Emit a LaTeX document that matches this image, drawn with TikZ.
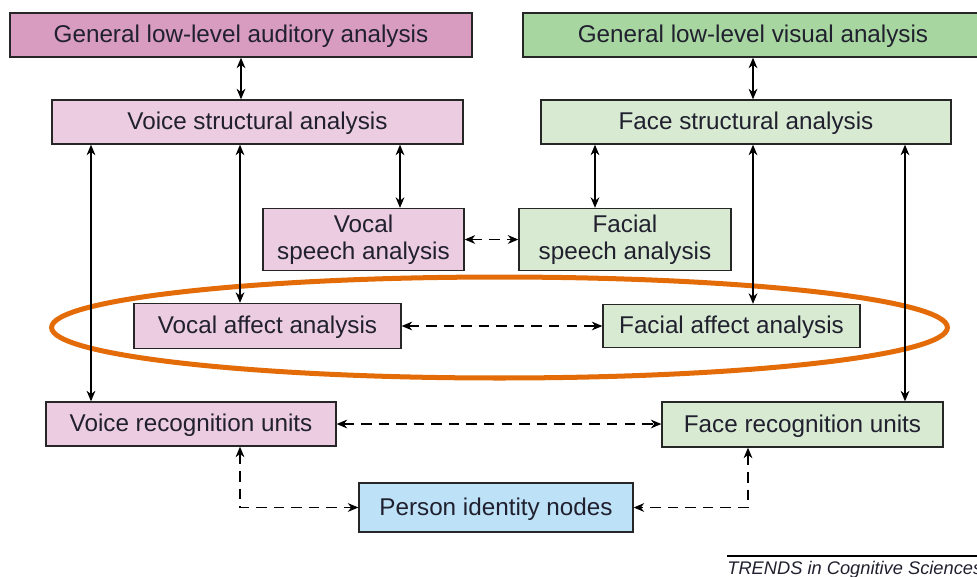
\documentclass[tikz,border=0pt]{standalone}
\usepackage{fontspec}
\setmainfont{Liberation Sans}
\usetikzlibrary{arrows.meta}
\definecolor{audpink}{HTML}{D99CC1}
\definecolor{voicepink}{HTML}{ECCCE1}
\definecolor{visgreen}{HTML}{A8D6A0}
\definecolor{facegreen}{HTML}{D9EAD3}
\definecolor{idblue}{HTML}{BDE1F7}
\definecolor{ringorange}{HTML}{E36C09}
\definecolor{inkdark}{HTML}{20202E}

\begin{document}
\begin{tikzpicture}[x=0.02cm,y=-0.02cm,
	box/.style={draw=black!85,line width=0.8pt,inner sep=0pt,align=center,text=inkdark,
		font=\fontsize{13.8}{15.5}\selectfont},
	oneline/.style={box,text height=1.15em,text depth=0.25em},
	link/.style={{Stealth[length=6pt,width=5pt]}-{Stealth[length=6pt,width=5pt]},line width=0.6pt},
	dlink/.style={link,dash pattern=on 6pt off 4pt}]
		\useasboundingbox (0,0) rectangle (977,576);
		% boxes
		\node[oneline,fill=audpink,minimum width=9.24cm,minimum height=0.88cm] (aud) at (241,35) {General low-level auditory analysis};
		\node[oneline,fill=visgreen,minimum width=9.2cm,minimum height=0.88cm] (vis) at (753,35) {General low-level visual analysis};
		\node[oneline,fill=voicepink,minimum width=8.22cm,minimum height=0.88cm] (vsa) at (257.5,122) {Voice structural analysis};
		\node[oneline,fill=facegreen,minimum width=8.2cm,minimum height=0.88cm] (fsa) at (746,122) {Face structural analysis};
		\node[box,fill=voicepink,minimum width=4.02cm,minimum height=1.24cm] (vsp) at (363.5,239.5) {Vocal\\speech analysis};
		\node[box,fill=facegreen,minimum width=4.24cm,minimum height=1.24cm] (fsp) at (625,239.5) {Facial\\speech analysis};
		\node[oneline,fill=voicepink,minimum width=5.34cm,minimum height=0.9cm] (vaa) at (267.5,326) {Vocal affect analysis};
		\node[oneline,fill=facegreen,minimum width=5.14cm,minimum height=0.86cm] (faa) at (731.5,326) {Facial affect analysis};
		\node[oneline,fill=voicepink,minimum width=5.8cm,minimum height=0.88cm] (vru) at (191,424) {Voice recognition units};
		\node[oneline,fill=facegreen,minimum width=5.62cm,minimum height=0.9cm] (fru) at (802.5,424.5) {Face recognition units};
		\node[oneline,fill=idblue,minimum width=5.48cm,minimum height=0.98cm] (pin) at (496,507.5) {Person identity nodes};
		% the ring round the affect boxes
		\draw[ringorange,line width=2.85pt] (499.5,327.5) ellipse [x radius=8.96cm,y radius=1.01cm];
		% columns of the vertical arrows
		\coordinate (k1) at (91,0);
		\coordinate (k2) at (240,0);
		\coordinate (k3) at (400,0);
		\coordinate (k4) at (595,0);
		\coordinate (k5) at (753,0);
		\coordinate (k6) at (905,0);
		\coordinate (k7) at (748,0);
		\draw[link] (aud.south) -- (aud.south |- vsa.north);
		\draw[link] (vis.south) -- (vis.south |- fsa.north);
		\foreach \k/\a/\b in {k1/vsa/vru, k2/vsa/vaa, k3/vsa/vsp, k4/fsa/fsp, k5/fsa/faa, k6/fsa/fru}
			\draw[link] (\k |- \a.south) -- (\k |- \b.north);
		\draw[dlink] (vsp.east) -- (vsp.east -| fsp.west);
		\draw[dlink] (vaa.east) -- (vaa.east -| faa.west);
		\draw[dlink] (vru.east) -- (vru.east -| fru.west);
		\draw[dlink] (k2 |- vru.south) |- (pin.west);
		\draw[dlink] (k7 |- fru.south) |- (pin.east);
		% credit line
		\coordinate (rl) at (727,556);
		\coordinate (rr) at (990,556);
		\draw[line width=0.8pt] (rl) -- (rr);
		\node[anchor=base west,inner sep=0pt,text=inkdark,font=\fontsize{10.4}{12}\selectfont\itshape] (trends) at (727,574) {TRENDS in Cognitive Sciences};
\end{tikzpicture}
\end{document}
